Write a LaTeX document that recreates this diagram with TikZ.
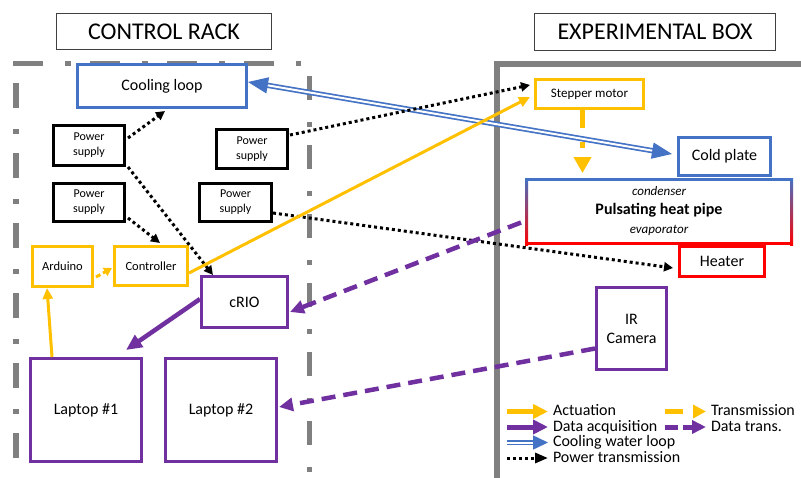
\documentclass[tikz,border=0pt]{standalone}
\usepackage{fontspec}
\setmainfont{Carlito}
\usetikzlibrary{arrows.meta,calc}

\definecolor{actyellow}{HTML}{FFC000}
\definecolor{daqpurple}{HTML}{7030A0}
\definecolor{loopblue}{HTML}{4472C4}
\definecolor{heatred}{HTML}{FF0000}
\definecolor{rackgray}{HTML}{808080}

\tikzset{
  box/.style={draw, line width=3pt, inner sep=0pt, align=center, font=\fontsize{16}{19}\selectfont},
  psbox/.style={box, draw=black, minimum width=71pt, font=\fontsize{12}{15}\selectfont},
  yellowbox/.style={box, draw=actyellow, font=\fontsize{12.5}{15}\selectfont},
  purplebox/.style={box, draw=daqpurple},
  bluebox/.style={box, draw=loopblue},
  redbox/.style={box, draw=heatred},
  titlebox/.style={draw=black!75, line width=1.2pt, inner sep=0pt, font=\fontsize{24}{28}\selectfont},
  legtext/.style={anchor=west, inner sep=0pt, outer sep=0pt, text height=11pt, text depth=3pt, font=\fontsize{16}{16}\selectfont},
  rackline/.style={draw=rackgray, line width=5.5pt},
  actarrow/.style={draw=actyellow, line width=3pt, -{Triangle[length=11pt,width=10pt]}},
  transarrow/.style={draw=actyellow, line width=5pt, dash pattern=on 18pt off 14pt on 6pt off 20pt, -{Triangle[length=16pt,width=17pt]}},
  daqarrow/.style={draw=daqpurple, line width=4.5pt, -{Triangle[length=16pt,width=14pt]}},
  daqdash/.style={draw=daqpurple, line width=4.5pt, dash pattern=on 14pt off 8pt, -{Triangle[length=14pt,width=13pt]}},
  pwrarrow/.style={draw=black, line width=3pt, dash pattern=on 3pt off 3pt, -{Triangle[length=9pt,width=9pt]}},
  loopline/.style={draw=loopblue, line width=1.7pt, double=white, double distance=2pt, {Triangle[length=20pt,width=16pt]}-{Triangle[length=20pt,width=16pt]}}
}

\begin{document}
\begin{tikzpicture}[x=1pt,y=-1pt]

	\useasboundingbox (0,0) rectangle (801,477);

	\node[titlebox, minimum width=215pt, minimum height=36pt] (rack) at (164,31.5) {CONTROL RACK};
	\node[titlebox, minimum width=241pt, minimum height=37pt] (expbox) at (655,32) {EXPERIMENTAL BOX};

	\draw[rackline, dash pattern=on 30pt off 22pt on 6pt off 19pt] (13,63.5) -- (301,63.5);
	\draw[rackline, dash pattern=on 25pt off 21pt on 5pt off 19pt] (16,83) -- (16,477);
	\draw[rackline, dash pattern=on 24pt off 22pt on 5pt off 18pt] (309.5,76) -- (309.5,477);
	\draw[draw=rackgray, line width=6pt] (497,480) -- (497,64) -- (805,64);

	\node[bluebox, minimum width=169pt, minimum height=43pt] (cool) at (162,86) {Cooling loop};
	\node[psbox, minimum height=40pt] (psa) at (89,145.5) {Power\\supply};
	\node[psbox, minimum height=39pt] (psb) at (252,149) {Power\\supply};
	\node[psbox, minimum height=38pt] (psc) at (89,202.5) {Power\\supply};
	\node[psbox, minimum width=72pt, minimum height=38pt] (psd) at (235.5,202.5) {Power\\supply};
	\node[yellowbox, minimum width=60pt, minimum height=40pt] (arduino) at (62.5,266.5) {Arduino};
	\node[yellowbox, minimum width=73pt, minimum height=39pt] (ctrl) at (151,266) {Controller};
	\node[purplebox, minimum width=86pt, minimum height=51pt] (crio) at (244.5,302) {cRIO};
	\node[purplebox, minimum width=111pt, minimum height=103pt] (lapa) at (86,410) {Laptop \#1};
	\node[purplebox, minimum width=111pt, minimum height=103pt] (lapb) at (221,410) {Laptop \#2};

	\node[box, draw=actyellow, minimum width=108pt, minimum height=29pt, font=\fontsize{13}{15}\selectfont] (stepper) at (589.5,94) {Stepper motor};
	\node[box, draw=none, minimum width=265pt, minimum height=64pt, font=\fontsize{13}{19}\selectfont] (php) at (659,211.5)
		{\itshape condenser\\{\fontsize{16}{19}\selectfont\bfseries Pulsating heat pipe}\\\itshape evaporator};
	\shade[top color=loopblue, bottom color=heatred] (php.north west) rectangle ($(php.south west)+(3,0)$);
	\shade[top color=loopblue, bottom color=heatred] ($(php.north east)+(-3,0)$) rectangle (php.south east);
	\draw[draw=loopblue, line width=3pt] ($(php.north west)+(0,1.5)$) -- ($(php.north east)+(0,1.5)$);
	\draw[draw=heatred, line width=3pt] ($(php.south west)+(0,-1.5)$) -- ($(php.south east)+(0,-1.5)$);
	\node[bluebox, minimum width=92pt, minimum height=38pt] (cold) at (724.5,156.5) {Cold plate};
	\node[redbox, minimum width=85pt, minimum height=30pt] (heater) at (722,261.5) {Heater};
	\node[purplebox, minimum width=70pt, minimum height=82pt] (ir) at (631.5,328.5) {IR\\Camera};

	\draw[loopline] ($(cool.east)+(0,-4)$) -- ($(cold.west)+(-5,-2.5)$);

	\draw[pwrarrow] ($(psa.east)+(2,-7.5)$) -- ($(cool.south)+(3,2)$);
	\draw[pwrarrow] ($(psa.south east)+(2,0)$) -- ($(crio.north west)+(13,0)$);
	\draw[pwrarrow] ($(psc.south east)+(2,-5)$) -- ($(ctrl.north)+(9,-2)$);
	\draw[pwrarrow] ($(psb.east)+(1,-14)$) -- ($(stepper.west)+(-4,-9)$);
	\draw[pwrarrow] ($(psd.east)+(0,10.5)$) -- ($(heater.west)+(-5,6.5)$);

	\draw[actarrow] ($(ctrl.east)+(0,7)$) -- ($(stepper.west)+(-4,3)$);
	\draw[actarrow] ($(lapa.north)+(-34,0)$) -- ($(arduino.south)+(-15.5,0)$);
	\draw[actarrow, line width=3pt, dash pattern=on 5pt off 3pt, -{Triangle[length=8pt,width=9pt]}] ($(arduino.east)+(2,10.5)$) -- ($(ctrl.west)+(-1,2)$);
	\coordinate (smdrop) at ($(stepper.south)+(-7,0)$);
	\draw[transarrow, shorten >=5pt] (smdrop) -- (smdrop |- php.north);

	\draw[daqarrow] ($(crio.west)+(0,-3)$) -- ($(lapa.north east)+(-17,-7)$);
	\draw[daqdash] ($(php.west)+(-4,11)$) -- ($(crio.east)+(1,10)$);
	\draw[daqdash] ($(ir.west)+(0,20)$) -- ($(lapb.east)+(1,-3)$);

	\node[legtext] (lgact) at (553,411.5) {Actuation};
	\node[legtext] (lgdaq) at (553,427) {Data acquisition};
	\node[legtext] (lgloop) at (553,442.5) {Cooling water loop};
	\node[legtext] (lgpwr) at (553,458) {Power transmission};
	\node[legtext] (lgtrans) at (711,411.5) {Transmission};
	\node[legtext] (lgdt) at (711,427) {Data trans.};

	\draw[actarrow, line width=5pt, -{Triangle[length=15pt,width=14pt]}] ($(lgact.west)+(-46,0)$) -- ($(lgact.west)+(-5,0)$);
	\draw[daqarrow, line width=5pt, -{Triangle[length=15pt,width=14pt]}] ($(lgdaq.west)+(-46,0)$) -- ($(lgdaq.west)+(-5,0)$);
	\draw[loopline, line width=1.5pt, double distance=2pt, -{Triangle[length=15pt,width=14pt]}] ($(lgloop.west)+(-46,0)$) -- ($(lgloop.west)+(-5,0)$);
	\draw[pwrarrow, -{Triangle[length=13pt,width=10pt]}] ($(lgpwr.west)+(-46,0)$) -- ($(lgpwr.west)+(-5,0)$);
	\draw[transarrow, dash pattern=on 18pt off 20pt, -{Triangle[length=13pt,width=13pt]}] ($(lgtrans.west)+(-46,0)$) -- ($(lgtrans.west)+(-5,0)$);
	\draw[daqdash, line width=5pt, dash pattern=on 13pt off 5pt, -{Triangle[length=14pt,width=13pt]}] ($(lgdt.west)+(-46,0)$) -- ($(lgdt.west)+(-5,0)$);

\end{tikzpicture}
\end{document}
